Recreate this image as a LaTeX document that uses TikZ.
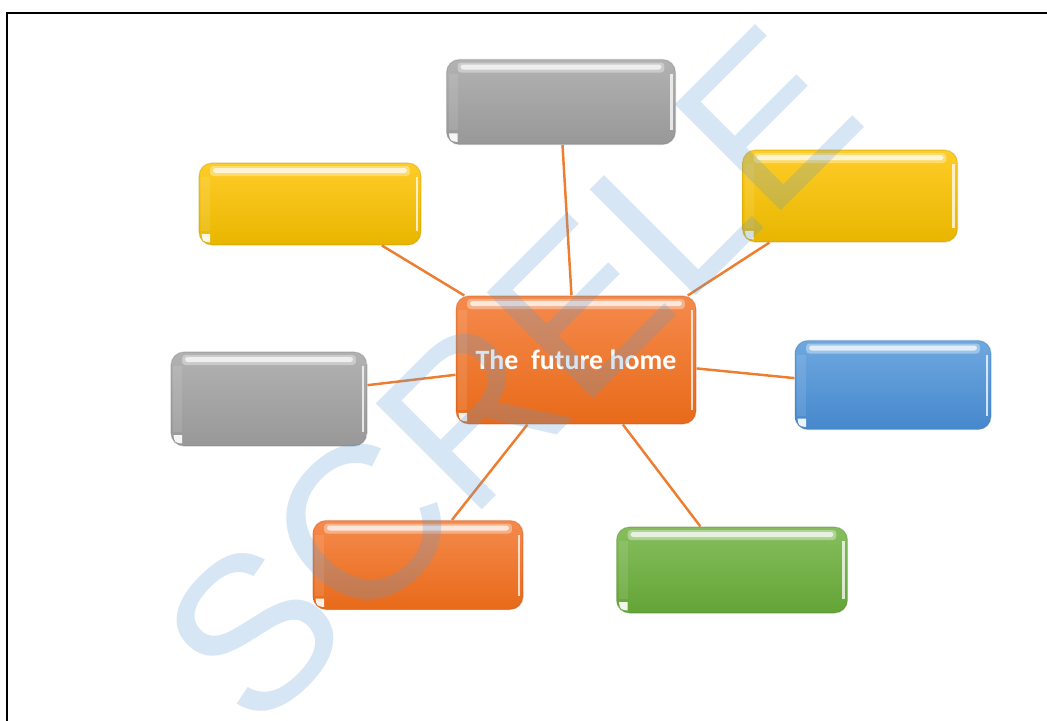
\documentclass[tikz,border=0pt]{standalone}
\usepackage{fontspec}
\newfontfamily\calibri{Carlito}
\newfontfamily\markfont{Liberation Sans}

\definecolor{linkorange}{RGB}{237,125,49}
\definecolor{markblue}{RGB}{91,155,213}
\definecolor{graytop}{RGB}{178,178,178}
\definecolor{graybot}{RGB}{152,152,152}
\definecolor{yellowtop}{RGB}{255,204,40}
\definecolor{yellowbot}{RGB}{232,182,0}
\definecolor{orangetop}{RGB}{245,138,76}
\definecolor{orangebot}{RGB}{232,106,26}
\definecolor{bluetop}{RGB}{110,168,224}
\definecolor{bluebot}{RGB}{70,136,204}
\definecolor{greentop}{RGB}{134,190,94}
\definecolor{greenbot}{RGB}{100,164,54}

\begin{document}
\begin{tikzpicture}[x=0.02cm, y=-0.02cm,
    gloss/.style 2 args={rounded corners=0.26cm, top color=#1, bottom color=#2,
        draw=#2!80!black, draw opacity=0.35, line width=0.6pt, inner sep=0pt,
        path picture={
            % shine along the top edge
            \fill[white, opacity=0.35, rounded corners=2pt]
                ([xshift=0.22cm,yshift=-0.06cm]path picture bounding box.north west) rectangle
                ([xshift=-0.22cm,yshift=-0.26cm]path picture bounding box.north east);
            \fill[white, opacity=0.7, rounded corners=1.5pt]
                ([xshift=0.28cm,yshift=-0.1cm]path picture bounding box.north west) rectangle
                ([xshift=-0.28cm,yshift=-0.2cm]path picture bounding box.north east);
            % light band on the left and right edges
            \fill[white, opacity=0.1, sharp corners]
                ([xshift=0.04cm,yshift=0.28cm]path picture bounding box.south west) rectangle
                ([xshift=0.22cm,yshift=-0.28cm]path picture bounding box.north west);
            \fill[white, opacity=0.75, sharp corners]
                ([xshift=-0.05cm,yshift=0.28cm]path picture bounding box.south east) rectangle
                ([xshift=-0.1cm,yshift=-0.28cm]path picture bounding box.north east);
            % small spot in the lower left corner
            \fill[white, opacity=0.9, sharp corners]
                ([xshift=0.05cm,yshift=0.22cm]path picture bounding box.south west) --
                ([xshift=0.22cm,yshift=0.22cm]path picture bounding box.south west) --
                ([xshift=0.22cm,yshift=0.05cm]path picture bounding box.south west) .. controls
                ([xshift=0.07cm,yshift=0.07cm]path picture bounding box.south west) .. cycle;
        }},
    graybox/.style={gloss={graytop}{graybot}},
    yellowbox/.style={gloss={yellowtop}{yellowbot}},
    orangebox/.style={gloss={orangetop}{orangebot}},
    bluebox/.style={gloss={bluetop}{bluebot}},
    greenbox/.style={gloss={greentop}{greenbot}},
    link/.style={draw=linkorange, line width=1.4pt}]

    \useasboundingbox (0,0) rectangle (1047,720);

    % Page frame
    \draw[line width=1pt] (7,730) -- (7,13) -- (1060,13);

    % Central box
    \node (hub) at (576,360) [orangebox, minimum width=4.8cm, minimum height=2.56cm,
        text=white, font=\calibri\bfseries\fontsize{15.9}{18}\selectfont] {The\ \ future home};

    % Boxes round it
    \node (top) at (561,102) [graybox, minimum width=4.58cm, minimum height=1.7cm] {};
    \node (nw) at (310,204) [yellowbox, minimum width=4.44cm, minimum height=1.64cm] {};
    \node (ne) at (850,196) [yellowbox, minimum width=4.3cm, minimum height=1.84cm] {};
    \node (west) at (269,399) [graybox, minimum width=3.92cm, minimum height=1.88cm] {};
    \node (east) at (893,385) [bluebox, minimum width=3.92cm, minimum height=1.78cm] {};
    \node (sw) at (418,565) [orangebox, minimum width=4.2cm, minimum height=1.78cm] {};
    \node (se) at (732,570) [greenbox, minimum width=4.62cm, minimum height=1.72cm] {};

    % Links from the centre
    \draw[link] (hub.94) -- (top.272);
    \draw[link] (hub.150) -- (nw.-30);
    \draw[link] (hub.30) -- (ne.210);
    \draw[link] (hub.187) -- (west.8);
    \draw[link] (hub.-4) -- (east.176);
    \draw[link] (hub.233) -- (sw.53);
    \draw[link] (hub.306) -- (se.126);

    % Watermark
    \node at (255,737) [rotate=45, anchor=base west, inner sep=0pt, text=markblue,
        text opacity=0.25, font=\markfont\fontsize{124}{124}\selectfont] {SCRELE};
\end{tikzpicture}
\end{document}
